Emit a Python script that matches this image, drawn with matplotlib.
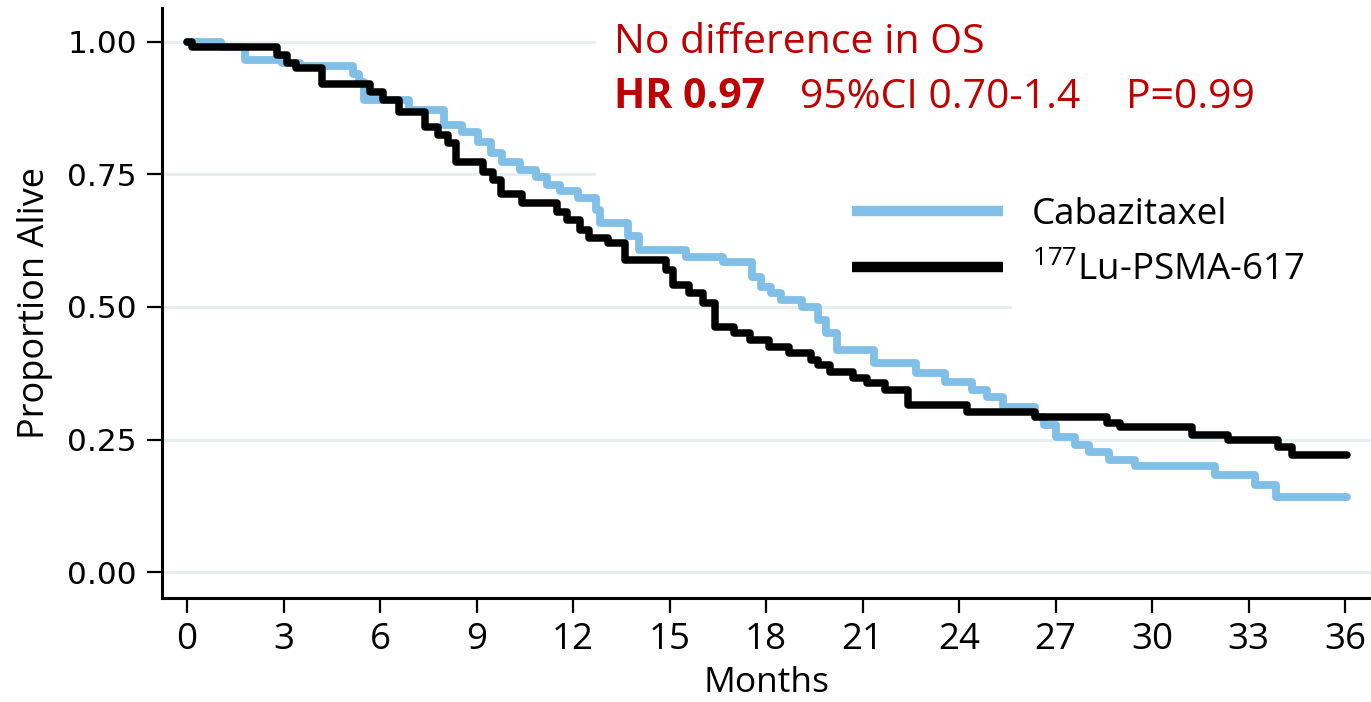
import matplotlib
matplotlib.use("Agg")
import matplotlib.pyplot as plt
from matplotlib.lines import Line2D

# Kaplan-Meier steps (month of drop, proportion alive after it)
cab_months = [0, 1.05, 1.8, 2.95, 3.5, 5.15, 5.35, 5.5, 6.9, 8.0, 8.55, 9.05, 9.45, 9.8,
              10.35, 10.85, 11.2, 11.6, 12.15, 12.7, 12.85, 13.7, 14.05, 15.5, 16.65,
              17.55, 17.85, 18.15, 18.45, 19.1, 19.6, 19.85, 20.2, 21.35, 22.65, 23.55,
              24.4, 24.85, 25.35, 26.35, 26.65, 27.0, 27.6, 28.05, 28.65, 29.45, 31.95,
              33.2, 33.85, 36.05]
cab_surv = [1.0, 0.99, 0.966, 0.96, 0.955, 0.94, 0.925, 0.89, 0.872, 0.843, 0.83, 0.812,
            0.79, 0.774, 0.758, 0.746, 0.73, 0.718, 0.706, 0.683, 0.658, 0.633, 0.608,
            0.595, 0.584, 0.557, 0.538, 0.526, 0.513, 0.50, 0.475, 0.45, 0.419, 0.394,
            0.375, 0.359, 0.343, 0.331, 0.312, 0.293, 0.277, 0.255, 0.24, 0.226, 0.211,
            0.20, 0.183, 0.164, 0.142, 0.142]

lu_months = [0, 0.15, 2.8, 3.1, 3.4, 4.2, 5.7, 6.1, 6.6, 7.4, 7.8, 8.1, 8.35, 9.2, 9.5,
             9.75, 10.4, 11.5, 11.8, 12.2, 12.5, 13.1, 13.6, 14.9, 15.1, 15.6, 16.05,
             16.4, 17.0, 17.5, 18.1, 18.7, 19.4, 19.6, 20.0, 20.7, 21.15, 21.7, 22.4,
             24.25, 26.35, 28.6, 29.0, 31.25, 32.35, 33.9, 34.35, 36.05]
lu_surv = [1.0, 0.991, 0.975, 0.96, 0.95, 0.92, 0.905, 0.89, 0.868, 0.84, 0.825, 0.81,
           0.774, 0.755, 0.74, 0.714, 0.696, 0.68, 0.664, 0.645, 0.63, 0.62, 0.589, 0.57,
           0.542, 0.526, 0.507, 0.463, 0.45, 0.438, 0.425, 0.413, 0.40, 0.39, 0.378,
           0.366, 0.356, 0.343, 0.315, 0.302, 0.293, 0.281, 0.273, 0.258, 0.249, 0.235,
           0.22, 0.22]

month_ticks = list(range(0, 37, 3))
surv_ticks = [0.0, 0.25, 0.5, 0.75, 1.0]
surv_labels = ["0.00", "0.25", "0.50", "0.75", "1.00"]
series_labels = ["Cabazitaxel", "$^{177}$Lu-PSMA-617"]

BLUE = "#80bfe8"
RED = "#c00000"
GRID = "#e7eef0"

plt.rcParams["font.family"] = ["Open Sans", "DejaVu Sans"]
plt.rcParams["mathtext.fontset"] = "custom"
plt.rcParams["mathtext.rm"] = "Open Sans"

W, H = 1371, 702
fig = plt.figure(figsize=(W / 100, H / 100), dpi=100)
ax = fig.add_axes([162 / W, 104 / H, 1 - 162 / W, 590 / H])
ax.set_xlim(-0.777, 36.8)
ax.set_ylim(-0.049, 1.064)

# gridlines are partly hidden behind the text boxes in the original
grid_reach = [1.0, 1.0, 0.701, 0.357, 0.357]
for yv, reach in zip(surv_ticks, grid_reach):
    ax.axhline(yv, xmin=0, xmax=reach, color=GRID, lw=2.2, zorder=0)

ax.step(cab_months, cab_surv, where="post", color=BLUE, lw=5.6,
        solid_capstyle="round", solid_joinstyle="round", zorder=2)
ax.step(lu_months, lu_surv, where="post", color="black", lw=5.4,
        solid_capstyle="round", solid_joinstyle="round", zorder=3)

for side in ["top", "right"]:
    ax.spines[side].set_visible(False)
for side in ["left", "bottom"]:
    ax.spines[side].set_linewidth(2.2)

ax.set_xticks(month_ticks)
ax.set_yticks(surv_ticks)
ax.set_yticklabels(surv_labels, family="DejaVu Sans", fontsize=22.5)
ax.tick_params(axis="both", direction="out", length=11, width=1.6, pad=7)
ax.tick_params(axis="x", labelsize=26.5, pad=6)

ax.set_xlabel("Months", fontsize=25.5, labelpad=6)
ax.set_ylabel("Proportion Alive", fontsize=26, labelpad=10)

handles = [Line2D([], [], color=BLUE, lw=7.5, solid_capstyle="butt"),
           Line2D([], [], color="black", lw=7.5, solid_capstyle="butt")]
fig.legend(handles, series_labels, loc="upper left",
           bbox_to_anchor=(852 / W, (H - 197) / H), frameon=False,
           fontsize=26.5, handlelength=4.1, handletextpad=0.78,
           labelspacing=0.52, borderpad=0, borderaxespad=0)

fig.text(614 / W, (H - 53) / H, "No difference in OS", color=RED,
         fontsize=29.5, va="baseline")
fig.text(614 / W, (H - 108) / H, "HR 0.97", color=RED, fontsize=29.5,
         fontweight="bold", va="baseline")
fig.text(800 / W, (H - 108) / H, "95%CI 0.70-1.4", color=RED, fontsize=29.5,
         va="baseline")
fig.text(1126 / W, (H - 108) / H, "P=0.99", color=RED, fontsize=29.5,
         va="baseline")

fig.savefig("out.png", dpi=100)
